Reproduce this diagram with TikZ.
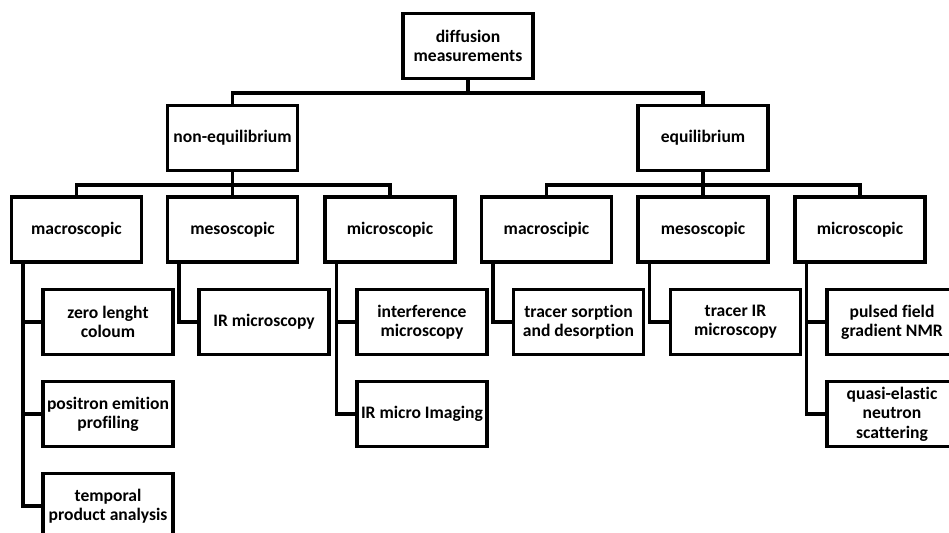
\documentclass[tikz,border=0pt]{standalone}
\usepackage{fontspec}
\setmainfont{Carlito}[Ligatures=NoCommon]
\usetikzlibrary{calc}

\begin{document}
\begin{tikzpicture}[x=0.02cm, y=-0.02cm,
    box/.style={draw, line width=2pt, minimum width=2.6cm, minimum height=1.3cm, inner sep=1pt, align=center, font=\fontsize{10}{11}\selectfont\bfseries},
    link/.style={line width=2pt}
]
\useasboundingbox (0,0) rectangle (949,533);
\clip (0,0) rectangle (949,533);

% top levels
\node[box] (root) at (468,46) {diffusion\\measurements};
\node[box] (noneq) at (232.5,138) {non-equilibrium};
\node[box] (eq) at (703,138) {equilibrium};

% scales
\foreach \nm/\x/\txt in {macA/76.5/macroscopic, mesoA/232.5/mesoscopic, micA/390/microscopic, macB/546.5/macroscipic, mesoB/703/mesoscopic, micB/860/microscopic}
    \node[box] (\nm) at (\x,229.5) {\txt};

% methods
\node[box] (zlc) at (108,322) {zero lenght\\coloum};
\node[box] (pep) at (108,414) {positron emition\\profiling};
\node[box] (tpa) at (108,506) {temporal\\product analysis};
\node[box] (irm) at (264,322) {IR microscopy};
\node[box] (ifm) at (422,322) {interference\\microscopy};
\node[box] (irmi) at (422,414) {IR micro Imaging};
\node[box] (tsd) at (578.5,322) {tracer sorption\\and desorption};
\node[box] (tir) at (735.5,322) {tracer IR\\microscopy};
\node[box] (pfg) at (892,322) {pulsed field\\gradient NMR};
\node[box] (qens) at (892,414) {quasi-elastic\\neutron\\scattering};

% connectors
\draw[link] (root.south) -- ++(0,13) -| (noneq.north);
\draw[link] (root.south) -- ++(0,13) -| (eq.north);
\foreach \c in {macA,mesoA,micA}
    \draw[link] (noneq.south) -- ++(0,13) -| (\c.north);
\foreach \c in {macB,mesoB,micB}
    \draw[link] (eq.south) -- ++(0,13) -| (\c.north);
\foreach \p/\c in {macA/zlc, macA/pep, macA/tpa, mesoA/irm, micA/ifm, micA/irmi, macB/tsd, mesoB/tir, micB/pfg, micB/qens}
    \draw[link] ($(\p.south west)+(13,0)$) |- (\c.west);

\end{tikzpicture}
\end{document}
